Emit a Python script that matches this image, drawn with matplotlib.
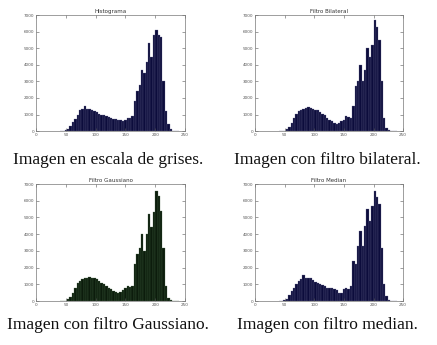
import matplotlib
matplotlib.use('Agg')
import matplotlib.pyplot as plt
import numpy as np

# gray levels (bin start, width 4)
levels = np.arange(40, 240, 4)

gris = [0, 0, 50, 150, 300, 550, 750, 1000, 1250, 1350,
        1500, 1350, 1350, 1300, 1200, 1150, 1050, 1000, 950, 900,
        850, 800, 750, 750, 700, 650, 600, 650, 800, 800,
        900, 1800, 2400, 2800, 3700, 3500, 4200, 5300, 4500, 5800,
        6100, 5800, 5700, 3000, 1200, 400, 100, 20, 0, 0]

bilateral = [0, 0, 20, 100, 250, 500, 800, 1050, 1200, 1300,
             1350, 1400, 1450, 1400, 1350, 1300, 1250, 1150, 1050, 950,
             800, 700, 600, 500, 450, 500, 600, 700, 900, 850,
             800, 1500, 2700, 3000, 4000, 3000, 3700, 5000, 4500, 5200,
             6700, 6300, 5500, 3000, 800, 200, 50, 0, 0, 0]

gaussiano = [0, 0, 20, 100, 250, 500, 800, 1050, 1200, 1300,
             1350, 1400, 1420, 1400, 1350, 1300, 1200, 1100, 1000, 900,
             800, 700, 600, 550, 500, 550, 650, 800, 900, 850,
             900, 2200, 2800, 3200, 4000, 3000, 4000, 5200, 4400, 5300,
             6600, 6300, 5400, 3200, 900, 200, 50, 0, 0, 0]

median = [0, 0, 50, 150, 350, 600, 800, 1000, 1200, 1300,
          1550, 1400, 1350, 1400, 1250, 1150, 1050, 1000, 950, 900,
          800, 800, 750, 700, 650, 500, 500, 700, 800, 700,
          900, 2400, 2200, 3300, 4200, 3300, 4500, 5500, 4800, 5700,
          6600, 6200, 5800, 3200, 1000, 300, 80, 0, 0, 0]

titles = ['Histograma', 'Filtro Bilateral', 'Filtro Gaussiano', 'Filtro Median']
captions = ['Imagen en escala de grises.', 'Imagen con filtro bilateral.',
            'Imagen con filtro Gaussiano.', 'Imagen con filtro median.']
series = [gris, bilateral, gaussiano, median]
colors = ['#0c0c3c', '#0c0c3c', '#0c1c0c', '#0c0c3c']
edges = ['#6a6a90', '#6a6a90', '#4a6a4a', '#6a6a90']

fig = plt.figure(figsize=(4.37, 3.45), dpi=100)

rects = [[0.0824, 0.620, 0.341, 0.336],
         [0.5835, 0.620, 0.339, 0.336],
         [0.0824, 0.1275, 0.341, 0.339],
         [0.5835, 0.1275, 0.339, 0.339]]
cap_pos = [(0.248, 0.536), (0.748, 0.536), (0.248, 0.058), (0.750, 0.058)]

for i in range(4):
    ax = fig.add_axes(rects[i])
    ax.bar(levels, series[i], width=4, align='edge', color=colors[i],
           edgecolor=edges[i], linewidth=0.2)
    ax.set_xlim(0, 250)
    ax.set_ylim(0, 7000)
    ax.set_xticks([0, 50, 100, 150, 200, 250])
    ax.set_yticks(range(0, 7001, 1000))
    ax.tick_params(direction='in', top=True, right=True, labelsize=3,
                   length=2, width=0.4, pad=1.5, colors='#555555')
    for s in ax.spines.values():
        s.set_linewidth(0.5)
        s.set_color('#777777')
    ax.set_title(titles[i], fontsize=4, pad=1.5, color='#333333')
    fig.text(cap_pos[i][0], cap_pos[i][1], captions[i], ha='center', va='center',
             family='Liberation Serif', fontsize=12.5, color='#111111')

fig.savefig('out.png', dpi=100)
